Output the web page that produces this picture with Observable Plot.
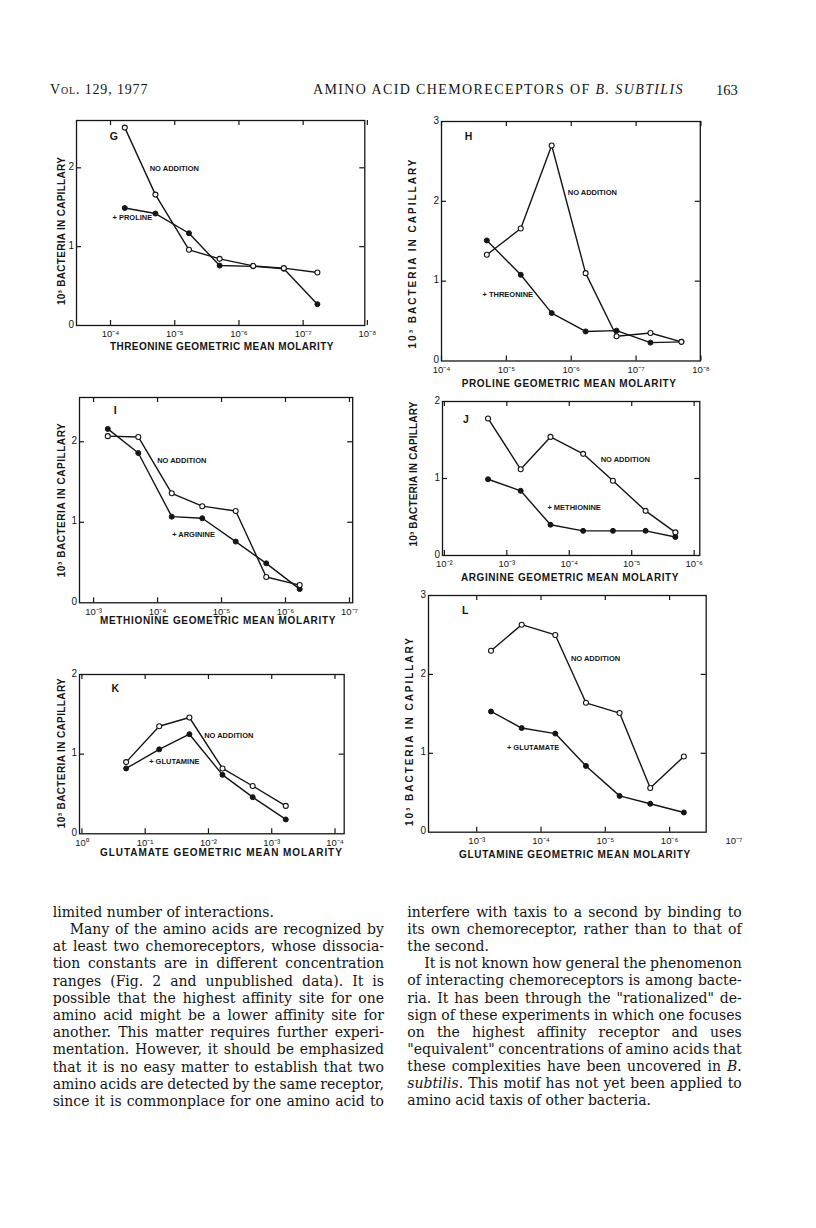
<!DOCTYPE html>
<html><head><meta charset="utf-8">
<script src="https://cdn.jsdelivr.net/npm/d3@7"></script>
<script src="https://cdn.jsdelivr.net/npm/@observablehq/plot@0.6"></script>
<style>
html,body{margin:0;padding:0;background:#fff;}
#page{position:relative;width:816px;height:1228px;overflow:hidden;background:#fff;}
.t{position:absolute;white-space:pre;line-height:1;}
.serif{font-family:"Liberation Serif","Times New Roman",serif;color:#151515;}
.body{font-family:"DejaVu Serif","Liberation Serif",serif;color:#151515;}
.sans{font-family:"Liberation Sans",Arial,sans-serif;font-weight:bold;color:#151515;}
.chart{position:absolute;}
</style></head><body><div id="page"></div>
<script>
// ---------------- data ----------------
const concG = [6e-5, 2e-5, 6e-6, 2e-6, 6e-7, 2e-7, 6e-8];
const noAddG = [2.51, 1.66, 0.96, 0.845, 0.756, 0.727, 0.672];
const prolineG = [1.49, 1.42, 1.17, 0.76, 0.75, 0.72, 0.27];
const ticksG = [1e-4, 1e-5, 1e-6, 1e-7, 1e-8];

const concH = [2e-5, 6e-6, 2e-6, 6e-7, 2e-7, 6e-8, 2e-8];
const noAddH = [1.33, 1.66, 2.70, 1.10, 0.31, 0.35, 0.24];
const threonineH = [1.51, 1.08, 0.60, 0.37, 0.38, 0.23, 0.24];
const ticksH = [1e-4, 1e-5, 1e-6, 1e-7, 1e-8];

const concI = [6e-4, 2e-4, 6e-5, 2e-5, 6e-6, 2e-6, 6e-7];
const noAddI = [2.07, 2.06, 1.36, 1.20, 1.14, 0.32, 0.22];
const arginineI = [2.16, 1.86, 1.07, 1.05, 0.76, 0.49, 0.17];
const ticksI = [1e-3, 1e-4, 1e-5, 1e-6, 1e-7];

const concJ = [2e-3, 6e-4, 2e-4, 6e-5, 2e-5, 6e-6, 2e-6];
const noAddJ = [1.78, 1.12, 1.54, 1.32, 0.97, 0.58, 0.30];
const methionineJ = [0.99, 0.84, 0.40, 0.32, 0.32, 0.32, 0.24];
const ticksJ = [1e-2, 1e-3, 1e-4, 1e-5, 1e-6];

const concK = [0.2, 0.06, 0.02, 6e-3, 2e-3, 6e-4];
const noAddK = [0.90, 1.35, 1.46, 0.82, 0.60, 0.35];
const glutamineK = [0.82, 1.06, 1.25, 0.74, 0.46, 0.18];
const ticksK = [1, 1e-1, 1e-2, 1e-3, 1e-4];

const concL = [6e-4, 2e-4, 6e-5, 2e-5, 6e-6, 2e-6, 6e-7];
const noAddL = [2.30, 2.63, 2.50, 1.64, 1.51, 0.56, 0.96];
const glutamateL = [1.53, 1.32, 1.25, 0.84, 0.46, 0.36, 0.25];
const ticksL = [1e-3, 1e-4, 1e-5, 1e-6, 1e-7];

const yTicks2 = [0, 1, 2];
const yTicks3 = [0, 1, 2, 3];

const yTitle = "10³ BACTERIA IN CAPILLARY";
const xTitles = {
  G: "THREONINE GEOMETRIC MEAN MOLARITY",
  H: "PROLINE GEOMETRIC MEAN MOLARITY",
  I: "METHIONINE GEOMETRIC MEAN MOLARITY",
  J: "ARGININE GEOMETRIC MEAN MOLARITY",
  K: "GLUTAMATE GEOMETRIC MEAN MOLARITY",
  L: "GLUTAMINE GEOMETRIC MEAN MOLARITY"
};
const noteNone = "NO ADDITION";
const addedG = "+ PROLINE", addedH = "+ THREONINE", addedI = "+ ARGININE",
      addedJ = "+ METHIONINE", addedK = "+ GLUTAMINE", addedL = "+ GLUTAMATE";

const leftLines = [
  "limited number of interactions.",
  "Many of the amino acids are recognized by",
  "at least two chemoreceptors, whose dissocia-",
  "tion constants are in different concentration",
  "ranges (Fig. 2 and unpublished data). It is",
  "possible that the highest affinity site for one",
  "amino acid might be a lower affinity site for",
  "another. This matter requires further experi-",
  "mentation. However, it should be emphasized",
  "that it is no easy matter to establish that two",
  "amino acids are detected by the same receptor,",
  "since it is commonplace for one amino acid to"
];
const rightLines = [
  "interfere with taxis to a second by binding to",
  "its own chemoreceptor, rather than to that of",
  "the second.",
  "It is not known how general the phenomenon",
  "of interacting chemoreceptors is among bacte-",
  "ria. It has been through the \"rationalized\" de-",
  "sign of these experiments in which one focuses",
  "on the highest affinity receptor and uses",
  "\"equivalent\" concentrations of amino acids that",
  "these complexities have been uncovered in <i>B</i>.",
  "<i>subtilis</i>. This motif has not yet been applied to",
  "amino acid taxis of other bacteria."
];
const leftLast = [0], leftIndent = [1];
const rightLast = [2, 11], rightIndent = [3];

// ---------------- helpers ----------------
const page = document.getElementById("page");
const INK = "#151515";
const supMap = {"-":"⁻","0":"⁰","1":"¹","2":"²","3":"³","4":"⁴","5":"⁵","6":"⁶","7":"⁷","8":"⁸","9":"⁹"};
const pow10 = d => "10" + String(Math.round(Math.log10(d))).split("").map(c => supMap[c]).join("");

function addText(html, cls, st) {
  const d = document.createElement("div");
  d.className = "t " + cls;
  d.innerHTML = html;
  Object.assign(d.style, st);
  page.appendChild(d);
  return d;
}
function fitLetters(el, w) {
  el.style.letterSpacing = "0px";
  const n = [...el.textContent].length;
  const nat = el.offsetWidth;
  el.style.letterSpacing = ((w - nat) / Math.max(1, n - 1)) + "px";
}
function justify(el, w) {
  const sp = (el.textContent.match(/ /g) || []).length;
  const nat = el.getBoundingClientRect().width;
  if (sp) el.style.wordSpacing = ((w - nat) / sp) + "px";
}

function panel(p) {
  const [L, R, T, B] = p.frame;
  const [e0, e1] = p.xExp;
  const mL = 22, mR = p.mR || 16, mT = 8, mB = 22;
  const W = R - L, H = B - T;
  const decPx = W / (e0 - e1);
  const tl = 5;
  const fx = 10 ** (tl / decPx);
  const dyv = tl * p.yMax / H;
  const x0 = 10 ** e0, x1 = 10 ** e1;
  const rows = (vals) => p.conc.map((c, i) => ({c, v: vals[i]}));
  const open = rows(p.noAdd), filled = rows(p.added);
  const inX = p.ticksX.filter(t => t <= x0 * 1.0001 && t >= x1 / 1.15);
  const innerY = p.ticksY.filter(v => v > 0 && v < p.yMax);
  const notes = p.notes.map(([t, e, v]) => ({t, x: 10 ** e, y: v}));
  const svg = Plot.plot({
    width: W + mL + mR, height: H + mT + mB,
    marginLeft: mL, marginRight: mR, marginTop: mT, marginBottom: mB,
    x: {type: "log", domain: [x0, x1], label: null},
    y: {domain: [0, p.yMax], label: null},
    style: {fontFamily: "Liberation Sans, Arial, sans-serif", color: INK, background: "transparent", overflow: "visible"},
    marks: [
      Plot.frame({stroke: INK, strokeWidth: 1.3}),
      Plot.ruleX(inX, {x: d => d, y1: 0, y2: dyv, stroke: INK, strokeWidth: 1.2}),
      Plot.ruleX(inX, {x: d => d, y1: p.yMax - dyv, y2: p.yMax, stroke: INK, strokeWidth: 1.2}),
      Plot.ruleY(innerY, {y: d => d, x1: x0, x2: x0 / fx, stroke: INK, strokeWidth: 1.2}),
      Plot.ruleY(innerY, {y: d => d, x1: x1 * fx, x2: x1, stroke: INK, strokeWidth: 1.2}),
      Plot.axisX(p.ticksX, {tickSize: 0, tickPadding: 5, tickFormat: pow10, fontSize: 9.5, label: null}),
      Plot.axisY(p.ticksY, {tickSize: 0, tickPadding: 2.5, fontSize: 10, dy: -1, label: null, tickFormat: d => String(d)}),
      Plot.line(filled, {x: "c", y: "v", stroke: INK, strokeWidth: 1.4}),
      Plot.line(open, {x: "c", y: "v", stroke: INK, strokeWidth: 1.4}),
      Plot.dot(filled, {x: "c", y: "v", r: 2.5, fill: INK, stroke: INK, strokeWidth: 1}),
      Plot.dot(open, {x: "c", y: "v", r: 2.5, fill: "white", stroke: INK, strokeWidth: 1.1}),
      Plot.text([p.letter], {x: d => 10 ** d[1], y: d => d[2], text: d => d[0], fontSize: 10.5, fontWeight: "bold", fill: INK}),
      Plot.text(notes, {x: "x", y: "y", text: "t", textAnchor: "start", fontSize: 7.5, fontWeight: "bold", fill: INK})
    ]
  });
  const wrap = document.createElement("div");
  wrap.className = "chart";
  wrap.style.left = (L - mL) + "px";
  wrap.style.top = (T - mT) + "px";
  wrap.appendChild(svg);
  page.appendChild(wrap);

  // axis titles
  const fs = 10;
  const xt = addText(p.xTitle, "sans", {fontSize: fs + "px"});
  fitLetters(xt, p.xt[1] - p.xt[0]);
  xt.style.left = p.xt[0] + "px";
  xt.style.top = (p.xt[2] - 0.49 * fs) + "px";
  const yt = addText(yTitle, "sans", {fontSize: fs + "px"});
  fitLetters(yt, p.yt[2]);
  const w = yt.offsetWidth, h = yt.offsetHeight;
  yt.style.left = (p.yt[0] - w / 2) + "px";
  yt.style.top = (p.yt[1] - h / 2) + "px";
  yt.style.transform = "rotate(-90deg)";
}

// ---------------- panels ----------------
panel({conc: concG, noAdd: noAddG, added: prolineG, ticksX: ticksG, ticksY: yTicks2,
  frame: [76, 364.3, 120, 325], xExp: [-3.47, -7.96], yMax: 2.6,
  letter: ["G", -4.05, 2.40], notes: [[noteNone, -4.61, 1.99], [addedG, -4.03, 1.37]],
  xTitle: xTitles.G, xt: [110, 333, 347], yt: [62, 231, 148]});
panel({conc: concH, noAdd: noAddH, added: threonineH, ticksX: ticksH, ticksY: yTicks3,
  frame: [440.7, 699.5, 121, 360.5], xExp: [-4, -7.99], yMax: 3,
  letter: ["H", -4.416, 2.81], notes: [[noteNone, -5.946, 2.11], [addedH, -4.632, 0.833]],
  xTitle: xTitles.H, xt: [461.7, 676, 384], yt: [413, 252.7, 189]});
panel({conc: concI, noAdd: noAddI, added: arginineI, ticksX: ticksI, ticksY: yTicks2,
  frame: [79.3, 352.5, 396.7, 602], xExp: [-2.78, -7.05], yMax: 2.55,
  letter: ["I", -3.338, 2.385], notes: [[noteNone, -3.994, 1.764], [addedI, -4.228, 0.845]],
  xTitle: xTitles.I, xt: [100, 335, 621], yt: [61.7, 500, 154]});
panel({conc: concJ, noAdd: noAddJ, added: methionineJ, ticksX: ticksJ, ticksY: yTicks2,
  frame: [441.7, 699, 401, 555], xExp: [-1.97, -6.09], yMax: 2,
  letter: ["J", -2.343, 1.766], notes: [[noteNone, -4.503, 1.247], [addedJ, -3.65, 0.623]],
  xTitle: xTitles.J, xt: [461, 678, 578], yt: [413, 474, 145]});
panel({conc: concK, noAdd: noAddK, added: glutamineK, ticksX: ticksK, ticksY: yTicks2,
  frame: [79.3, 344, 674, 833.3], xExp: [0.038, -4.145], yMax: 2,
  letter: ["K", -0.526, 1.824], notes: [[noteNone, -1.932, 1.238], [addedK, -1.063, 0.911]],
  xTitle: xTitles.K, xt: [100, 342, 853], yt: [61.7, 753, 150]});
panel({conc: concL, noAdd: noAddL, added: glutamateL, ticksX: ticksL, ticksY: yTicks3,
  frame: [428.3, 706, 595, 831.7], xExp: [-2.25, -6.569], yMax: 3, mR: 45,
  letter: ["L", -2.821, 2.81], notes: [[noteNone, -4.465, 2.205], [addedL, -3.469, 1.077]],
  xTitle: xTitles.L, xt: [459, 690, 855], yt: [410, 731, 188]});

// ---------------- running head ----------------
const hfs = 14;
const h1 = addText("Vol. 129, 1977", "serif", {fontSize: hfs + "px", fontVariant: "small-caps", left: "50px", top: (90 - 0.51 * hfs) + "px"});
fitLetters(h1, 97);
const h2 = addText("AMINO ACID CHEMORECEPTORS OF <i>B. SUBTILIS</i>", "serif", {fontSize: hfs + "px", left: "313px", top: (90 - 0.51 * hfs) + "px"});
fitLetters(h2, 370);
const h3 = addText("163", "serif", {fontSize: "14.5px", left: "716px", top: (90 - 0.51 * 14.5) + "px"});
fitLetters(h3, 22);

// ---------------- body text ----------------
const bfs = 14;
function column(lines, x0, x1, y0, step, lastIdx, indentIdx) {
  lines.forEach((s, i) => {
    const ind = indentIdx.includes(i) ? 17 : 0;
    const el = addText(s, "body", {fontSize: bfs + "px", left: (x0 + ind) + "px", top: (y0 + step * i - 0.586 * bfs) + "px"});
    if (!lastIdx.includes(i)) justify(el, x1 - x0 - ind);
  });
}
column(leftLines, 52.7, 384, 913, 17.2, leftLast, leftIndent);
column(rightLines, 407.3, 741.7, 913.3, 17.1, rightLast, rightIndent);
</script></body></html>
